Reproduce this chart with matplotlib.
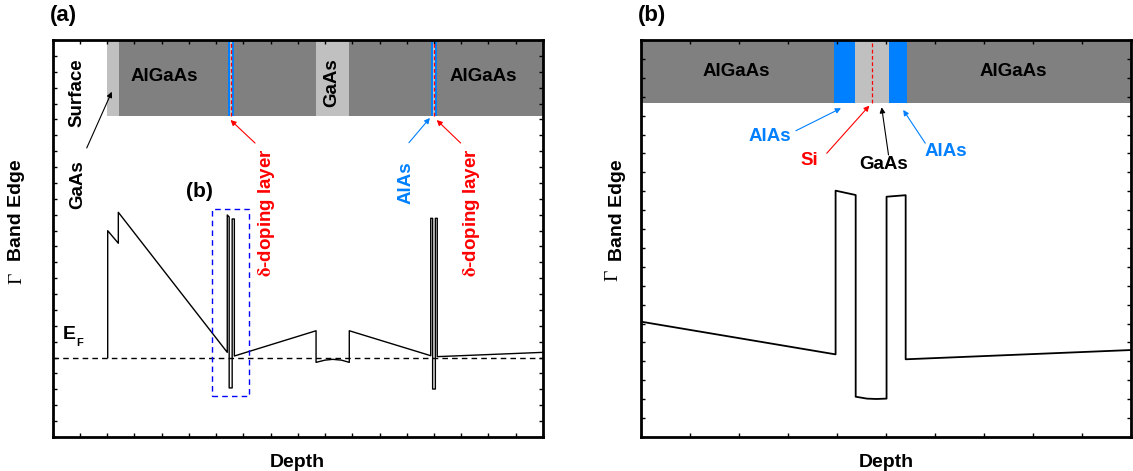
import numpy as np
import matplotlib.pyplot as plt
from matplotlib.patches import Rectangle
from matplotlib.ticker import MultipleLocator

plt.rcParams['font.family'] = ['Liberation Sans', 'DejaVu Sans']
plt.rcParams['font.weight'] = 'bold'
plt.rcParams['mathtext.fontset'] = 'stix'

DARK = '#808080'
LIGHT = '#c0c0c0'
BLUE = '#0080ff'
RED = '#ff0000'

# ---- full structure: conduction band edge vs depth ----
ef_level = 5.0
band_x = [2.02, 2.02, 2.41, 2.41, 6.41,
          6.41, 6.48, 6.48, 6.59, 6.59, 6.67, 6.67,
          9.67, 9.67, 10.0, 10.28, 10.6, 10.89, 10.89,
          13.88, 13.88, 13.95, 13.95, 14.05, 14.05, 14.12, 14.12, 18.0]
band_y = [5.0, 12.99, 12.2, 14.15, 5.33,
          13.98, 13.85, 3.09, 3.09, 13.73, 13.73, 5.10,
          6.69, 4.70, 4.84, 4.89, 4.84, 4.70, 6.69,
          5.12, 13.77, 13.77, 3.02, 3.02, 13.77, 13.77, 5.06, 5.33]

# layer stack (start, end, colour) along depth
layers_a = [(1.98, 2.43, LIGHT), (2.43, 6.43, DARK),
            (6.43, 6.50, BLUE), (6.50, 6.58, LIGHT), (6.58, 6.65, BLUE),
            (6.65, 9.67, DARK), (9.67, 10.89, LIGHT), (10.89, 13.90, DARK),
            (13.90, 13.97, BLUE), (13.97, 14.03, LIGHT), (14.03, 14.10, BLUE),
            (14.10, 18.0, DARK)]
delta_a = [6.54, 14.0]

# ---- zoom on the first delta-doped barrier ----
zoom_x = [0.0, 3.97, 3.97, 4.38, 4.38, 4.61, 4.80, 5.01, 5.01, 5.40, 5.40, 10.0]
zoom_y = [6.10, 4.37, 13.03, 12.80, 2.13, 2.03, 2.01, 2.03, 12.71, 12.79, 4.11, 4.60]
layers_b = [(0.0, 3.94, DARK), (3.94, 4.37, BLUE), (4.37, 5.05, LIGHT),
            (5.05, 5.42, BLUE), (5.42, 10.0, DARK)]
delta_b = 4.72

fig = plt.figure(figsize=(11.33, 4.71), dpi=100)
ax1 = fig.add_axes([0.0465, 0.0722, 0.4327, 0.8429])
ax2 = fig.add_axes([0.5658, 0.0722, 0.4325, 0.8429])


def style(ax, xmax, ymax):
    ax.set_xlim(0, xmax)
    ax.set_ylim(0, ymax)
    ax.xaxis.set_major_locator(MultipleLocator(1))
    ax.yaxis.set_major_locator(MultipleLocator(1))
    ax.tick_params(direction='in', length=3, width=1, top=True, right=True,
                   labelbottom=False, labelleft=False)
    for s in ax.spines.values():
        s.set_linewidth(2)
    ax.set_xlabel('Depth', fontsize=14, fontweight='bold', labelpad=12)


style(ax1, 18, 25)
style(ax2, 10, 21)

# y labels: serif Gamma + bold sans text
for xg, xb, yg in [(0.015, 0.015, 0.41), (0.541, 0.5446, 0.416)]:
    fig.text(xb, 0.554, 'Band Edge', rotation=90, fontsize=14, fontweight='bold',
             ha='center', va='center')
    fig.text(xg, yg, '\u0393', rotation=90, fontsize=14, fontweight='normal',
             family='Liberation Serif', ha='center', va='center')

# (a) layer stack
bar_lo = 20.21
for x0, x1, c in layers_a:
    ax1.add_patch(Rectangle((x0, bar_lo), x1 - x0, 25 - bar_lo, color=c, lw=0, zorder=1))
for xd in delta_a:
    ax1.plot([xd, xd], [bar_lo, 25], color=RED, ls=(0, (3, 2)), lw=0.9, zorder=2)

ax1.axhline(ef_level, color='black', ls=(0, (4, 3)), lw=1)
ax1.plot(band_x, band_y, color='black', lw=1.0, zorder=3)
ax1.add_patch(Rectangle((5.86, 2.60), 1.33, 11.76, fill=False, ec='#0000ff',
                        ls=(0, (4, 3)), lw=1, zorder=3))

txt = dict(fontsize=13.5, fontweight='bold', ha='center', va='center')
ax1.text(4.09, 22.69, 'AlGaAs', **txt)
ax1.text(15.80, 22.67, 'AlGaAs', **txt)
ax1.text(10.24, 22.29, 'GaAs', rotation=90, **txt)
ax1.text(0.88, 21.66, 'Surface', rotation=90, **txt)
ax1.text(0.93, 15.87, 'GaAs', rotation=90, **txt)
ax1.text(12.96, 15.99, 'AlAs', rotation=90, color=BLUE, **txt)
ax1.text(7.86, 14.1, r'$\mathrm{\delta}$-doping layer', rotation=90, color=RED, **txt)
ax1.text(15.38, 14.1, r'$\mathrm{\delta}$-doping layer', rotation=90, color=RED, **txt)
ax1.text(5.37, 15.43, '(b)', fontsize=15, fontweight='bold', ha='center', va='center')
ax1.text(0.62, 6.45, 'E', fontsize=14, fontweight='bold', ha='center', va='center')
ax1.text(0.98, 5.95, 'F', fontsize=8, fontweight='bold', ha='center', va='center')

arrows_a = [((1.25, 18.20), (2.17, 21.74), 'black'),
            ((7.43, 18.51), (6.53, 19.96), RED),
            ((13.08, 18.53), (13.85, 20.09), BLUE),
            ((14.98, 18.51), (14.10, 19.96), RED)]
for start, end, c in arrows_a:
    ax1.annotate('', xy=end, xytext=start,
                 arrowprops=dict(arrowstyle='-|>', color=c, lw=0.8,
                                 mutation_scale=8, shrinkA=0, shrinkB=0))

# (b) layer stack
bar_lo_b = 17.65
for x0, x1, c in layers_b:
    ax2.add_patch(Rectangle((x0, bar_lo_b), x1 - x0, 21 - bar_lo_b, color=c, lw=0, zorder=1))
ax2.plot([delta_b, delta_b], [bar_lo_b, 21], color=RED, ls=(0, (3, 2)), lw=0.9, zorder=2)
ax2.plot(zoom_x, zoom_y, color='black', lw=1.3, zorder=3)

ax2.text(1.94, 19.32, 'AlGaAs', **txt)
ax2.text(7.59, 19.32, 'AlGaAs', **txt)
ax2.text(2.63, 15.92, 'AlAs', color=BLUE, **txt)
ax2.text(6.22, 15.09, 'AlAs', color=BLUE, **txt)
ax2.text(3.43, 14.60, 'Si', color=RED, **txt)
ax2.text(4.96, 14.39, 'GaAs', **txt)

arrows_b = [((3.16, 16.20), (4.08, 17.39), BLUE),
            ((3.79, 15.01), (4.66, 17.53), RED),
            ((5.05, 14.92), (4.91, 17.44), 'black'),
            ((5.80, 15.54), (5.35, 17.30), BLUE)]
for start, end, c in arrows_b:
    ax2.annotate('', xy=end, xytext=start,
                 arrowprops=dict(arrowstyle='-|>', color=c, lw=0.8,
                                 mutation_scale=8, shrinkA=0, shrinkB=0))

fig.text(0.0556, 0.968, '(a)', fontsize=16, fontweight='bold', ha='center', va='center')
fig.text(0.5755, 0.968, '(b)', fontsize=16, fontweight='bold', ha='center', va='center')

fig.savefig('out.png', dpi=100)
